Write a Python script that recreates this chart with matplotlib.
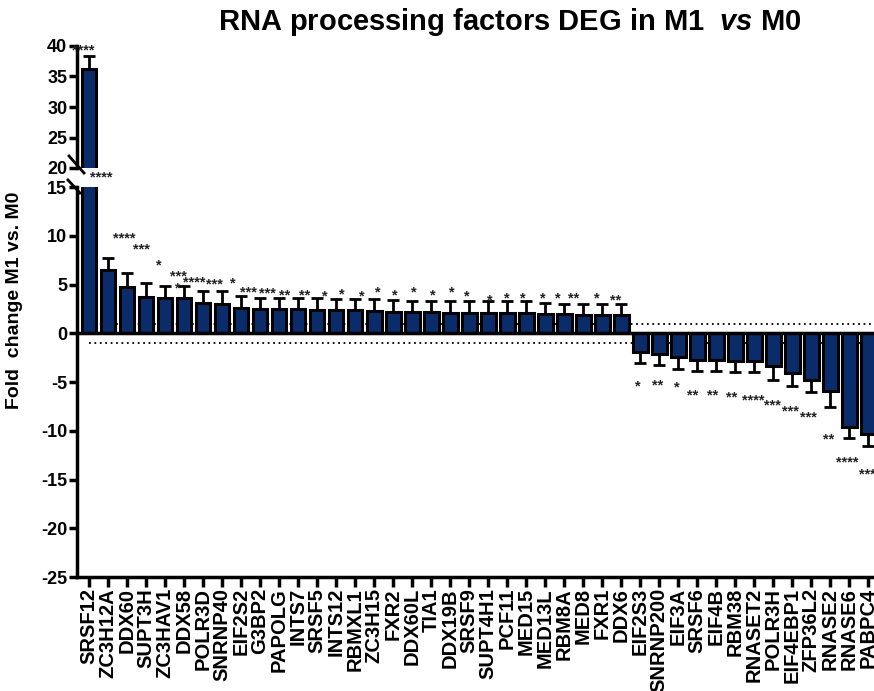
import matplotlib
matplotlib.use("Agg")
import matplotlib.pyplot as plt
from matplotlib.lines import Line2D
import numpy as np

plt.rcParams['font.family'] = ['Liberation Sans', 'DejaVu Sans']
plt.rcParams['font.weight'] = 'bold'
plt.rcParams['axes.unicode_minus'] = False
plt.rcParams['mathtext.fontset'] = 'custom'
plt.rcParams['mathtext.it'] = 'Liberation Sans:italic:bold'
plt.rcParams['mathtext.rm'] = 'Liberation Sans:bold'

genes = ['SRSF12', 'ZC3H12A', 'DDX60', 'SUPT3H', 'ZC3HAV1', 'DDX58', 'POLR3D',
         'SNRNP40', 'EIF2S2', 'G3BP2', 'PAPOLG', 'INTS7', 'SRSF5', 'INTS12',
         'RBMXL1', 'ZC3H15', 'FXR2', 'DDX60L', 'TIA1', 'DDX19B', 'SRSF9',
         'SUPT4H1', 'PCF11', 'MED15', 'MED13L', 'RBM8A', 'MED8', 'FXR1', 'DDX6',
         'EIF2S3', 'SNRNP200', 'EIF3A', 'SRSF6', 'EIF4B', 'RBM38', 'RNASET2',
         'POLR3H', 'EIF4EBP1', 'ZFP36L2', 'RNASE2', 'RNASE6', 'PABPC4']
fold = [36.3, 6.46, 4.75, 3.73, 3.66, 3.62, 3.10, 2.97, 2.59, 2.49, 2.49, 2.49,
        2.43, 2.36, 2.36, 2.29, 2.22, 2.19, 2.19, 2.12, 2.12, 2.12, 2.12, 2.12,
        2.02, 2.02, 1.85, 1.85, 1.85,
        -1.92, -2.09, -2.43, -2.77, -2.77, -2.84, -2.84, -3.35, -4.03, -4.75,
        -5.93, -9.59, -10.34]
sem = [2.1, 1.26, 1.44, 1.47, 1.2, 1.24, 1.24, 1.37, 1.21, 1.13, 1.13, 1.13,
       1.19, 1.13, 1.13, 1.2, 1.2, 1.16, 1.16, 1.2, 1.2, 1.2, 1.2, 1.2,
       1.08, 1.02, 1.12, 1.19, 1.12,
       1.09, 1.12, 1.19, 1.12, 1.12, 1.16, 1.13, 1.4, 1.36, 1.25,
       1.6, 1.15, 1.2]

# significance labels (x in bar index, y in fold change)
star_x = [0.67, 1.86, 2.74, 3.7, 4.7, 4.67, 5.53, 6.58, 7.56, 8.4, 9.4, 10.3,
          11.37, 12.4, 13.3, 14.35, 15.2, 16.1, 17.1, 18.1, 19.1, 19.9, 21.1,
          22.0, 22.8, 23.9, 24.65, 25.5, 26.7, 27.7,
          28.9, 29.9, 30.9, 31.75, 32.8, 33.8, 34.96, 35.96, 36.9, 37.86,
          38.9, 39.9, 41.1]
star_y = [16.4, 10.15, 9.0, 7.4, 6.3, 5.0, 5.64, 5.44, 5.5, 4.6, 4.5, 4.35,
          4.35, 4.17, 4.4, 4.17, 4.6, 4.35, 4.65, 4.35, 4.6, 4.17, 3.83,
          4.0, 4.0, 4.0, 4.0, 4.0, 4.0, 3.8,
          -5.06, -4.9, -5.16, -5.9, -5.9, -6.1, -6.5, -7.0, -7.6, -8.2,
          -10.5, -12.85, -14.05]
star_txt = ['****', '****', '***', '*', '***', '*', '****', '***', '*', '***',
            '***', '**', '**', '*', '*', '*', '*', '*', '*', '*', '*', '*', '*',
            '*', '*', '*', '*', '**', '*', '**',
            '*', '**', '*', '**', '**', '**', '****', '***', '***', '***',
            '**', '****', '****']

navy = '#0b2c6b'
x = np.arange(len(genes))
fold = np.array(fold)
sem = np.array(sem)
yerr = np.vstack([np.where(fold < 0, sem, 0), np.where(fold > 0, sem, 0)])

fig = plt.figure(figsize=(8.74, 6.91), dpi=100)
W, H = 874.0, 691.0
left = 77 / W
ax_top = fig.add_axes([left, 1 - 168 / H, 1 - left, (168 - 46) / H])
ax = fig.add_axes([left, 1 - 577 / H, 1 - left, (577 - 187) / H])

for a in (ax, ax_top):
    a.bar(x, fold, width=0.78, color=navy, edgecolor='black', linewidth=2.2, zorder=3)
    a.errorbar(x, fold, yerr=yerr, fmt='none', ecolor='black', elinewidth=2,
               capsize=4, capthick=2, zorder=2)
    a.set_xlim(-0.63, 41.3)
    for s in ('top', 'right'):
        a.spines[s].set_visible(False)
    a.spines['left'].set_linewidth(2.5)
    a.tick_params(axis='y', length=6, width=2.5, labelsize=13, pad=1)

ax_top.set_ylim(20, 40)
ax_top.set_yticks([20, 25, 30, 35, 40])
ax_top.spines['bottom'].set_visible(False)
ax_top.set_xticks([])

ax.set_ylim(-25, 15)
ax.set_yticks(np.arange(-25, 16, 5))
ax.spines['bottom'].set_linewidth(2.5)
ax.set_xticks(x)
ax.set_xticklabels(genes, rotation=90, fontsize=14.5, fontweight='bold')
ax.tick_params(axis='x', length=7, width=2.5, pad=1)

ax.axhline(0, color='black', linewidth=2.5, zorder=4)
ax.plot([0, 41.6], [1, 1], color='black', linestyle=(0, (1, 2)), linewidth=1.3, zorder=1)
ax.plot([0, 41.6], [-1, -1], color='black', linestyle=(0, (1, 2)), linewidth=1.3, zorder=1)

for sx, sy, st in zip(star_x, star_y, star_txt):
    ax.annotate(st, (sx, sy), xytext=(0, -6), textcoords='offset points',
                ha='center', va='baseline', fontsize=10.5, fontweight='bold',
                color='#222222', annotation_clip=False)
ax_top.annotate('****', (-0.29, 40), xytext=(0, -6), textcoords='offset points',
                ha='center', va='baseline', fontsize=10.5, fontweight='bold',
                color='#222222', annotation_clip=False)

# axis break marks
for (x0, y0, x1, y1) in [(69, 156, 84, 173), (68, 180, 80, 193)]:
    fig.add_artist(Line2D([x0 / W, x1 / W], [1 - y0 / H, 1 - y1 / H],
                          color='black', linewidth=2, transform=fig.transFigure))

fig.text(15 / W, 1 - 300 / H, 'Fold  change M1 vs. M0', rotation=90,
         ha='center', va='center', fontsize=14, fontweight='bold')
fig.text(510 / W, 1 - 22 / H, r'RNA processing factors DEG in M1  $\mathit{vs}$ M0',
         ha='center', va='center', fontsize=21, fontweight='bold')

plt.savefig('out.png', dpi=100)
